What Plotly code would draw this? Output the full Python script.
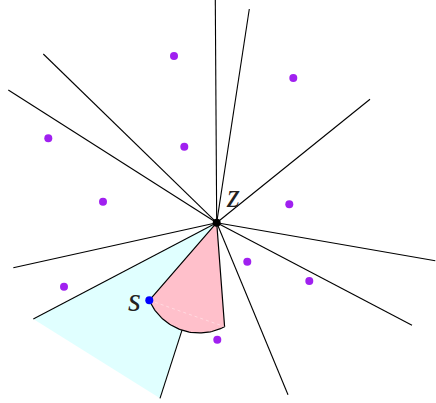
import numpy as np
import plotly.graph_objects as go

# Hub point z and the far ends of the rays drawn from it
z_point = (216.7, 222.7)
ray_end_x = [215.3, 249.3, 370.0, 435.3, 412.0, 288.0, 160.0, 33.3, 13.3, 8.3, 43.3]
ray_end_y = [0.0, 9.0, 99.3, 260.7, 325.3, 394.7, 398.3, 319.0, 267.7, 90.0, 54.0]

# Purple sample points
pts_x = [174.0, 293.3, 48.3, 184.3, 103.0, 289.3, 247.3, 309.3, 64.0, 217.3]
pts_y = [56.0, 78.0, 138.3, 146.7, 201.7, 204.3, 261.7, 281.0, 286.7, 339.7]

# Point s and the pink sector (s -> arc -> right corner -> z)
s_point = (149.3, 300.3)
arc_mid = (196.7, 332.9)
arc_end = (224.6, 326.7)

# Cyan region: z and the ends of two rays
cyan_x = [z_point[0], 33.3, 160.0]
cyan_y = [z_point[1], 319.0, 398.3]


def circle_arc(p1, p2, p3, n=60):
    (x1, y1), (x2, y2), (x3, y3) = p1, p2, p3
    d = 2 * (x1 * (y2 - y3) + x2 * (y3 - y1) + x3 * (y1 - y2))
    ux = ((x1**2 + y1**2) * (y2 - y3) + (x2**2 + y2**2) * (y3 - y1) + (x3**2 + y3**2) * (y1 - y2)) / d
    uy = ((x1**2 + y1**2) * (x3 - x2) + (x2**2 + y2**2) * (x1 - x3) + (x3**2 + y3**2) * (x2 - x1)) / d
    r = np.hypot(x1 - ux, y1 - uy)
    a1 = np.arctan2(y1 - uy, x1 - ux)
    a3 = np.arctan2(y3 - uy, x3 - ux)
    a2 = np.arctan2(y2 - uy, x2 - ux)

    def norm(a):
        return (a - a1) % (2 * np.pi)
    if norm(a2) < norm(a3):
        t = np.linspace(0, norm(a3), n)
    else:
        t = np.linspace(0, norm(a3) - 2 * np.pi, n)
    ang = a1 + t
    return ux + r * np.cos(ang), uy + r * np.sin(ang)


fig = go.Figure()

# cyan region
fig.add_trace(go.Scatter(x=cyan_x + [cyan_x[0]], y=cyan_y + [cyan_y[0]], fill="toself",
                         fillcolor="rgb(224,255,255)", mode="none", hoverinfo="skip"))

# rays
lx, ly = [], []
for ex, ey in zip(ray_end_x, ray_end_y):
    lx += [z_point[0], ex, None]
    ly += [z_point[1], ey, None]
fig.add_trace(go.Scatter(x=lx, y=ly, mode="lines", line=dict(color="black", width=1.1), hoverinfo="skip"))

# pink sector
ax, ay = circle_arc(s_point, arc_mid, arc_end)
sx = [z_point[0]] + list(ax) + [z_point[0]]
sy = [z_point[1]] + list(ay) + [z_point[1]]
fig.add_trace(go.Scatter(x=sx, y=sy, fill="toself", fillcolor="rgb(255,192,203)",
                         mode="lines", line=dict(color="black", width=1.2), hoverinfo="skip"))
# faint chord
fig.add_trace(go.Scatter(x=[s_point[0], arc_end[0]], y=[s_point[1], arc_end[1]], mode="lines",
                         line=dict(color="rgba(255,255,255,0.5)", width=0.8, dash="dot"), hoverinfo="skip"))

# purple points
fig.add_trace(go.Scatter(x=pts_x, y=pts_y, mode="markers",
                         marker=dict(color="rgb(160,32,240)", size=8, line=dict(width=0))))
# s point
fig.add_trace(go.Scatter(x=[s_point[0]], y=[s_point[1]], mode="markers",
                         marker=dict(color="rgb(0,0,255)", size=8, line=dict(width=0))))
# z point
fig.add_trace(go.Scatter(x=[z_point[0]], y=[z_point[1]], mode="markers",
                         marker=dict(color="black", size=8, line=dict(width=0))))

font = dict(family="Liberation Serif, DejaVu Serif, serif", size=33, color="#222222")
fig.add_annotation(x=233.0, y=195.5, text="<i>z</i>", showarrow=False, font=font)
fig.add_annotation(x=134.0, y=299.5, text="<i>s</i>", showarrow=False, font=font)

fig.update_layout(
    width=436, height=403, margin=dict(l=0, r=0, t=0, b=0),
    paper_bgcolor="white", plot_bgcolor="white", showlegend=False,
    xaxis=dict(range=[0, 436], visible=False, fixedrange=True),
    yaxis=dict(range=[403, 0], visible=False, fixedrange=True),
)

fig.write_html("out.html", config={"displayModeBar": False},
               post_script="document.body.style.margin='0';document.body.style.overflow='hidden';")
